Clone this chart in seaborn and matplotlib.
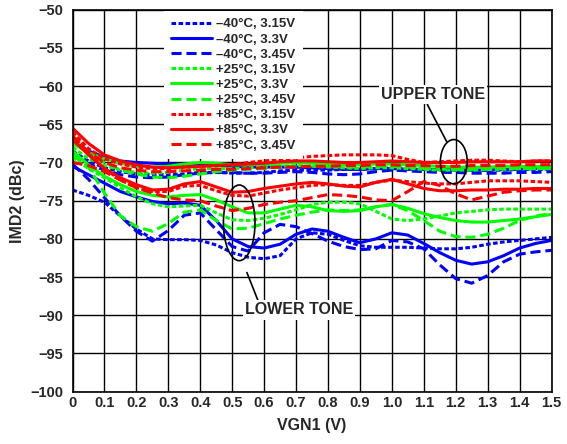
import pandas as pd
import seaborn as sns
import matplotlib.pyplot as plt
from matplotlib.patches import Ellipse

vgn1 = [0.0, 0.05, 0.1, 0.15, 0.2, 0.25, 0.3, 0.35, 0.4, 0.45, 0.5, 0.55, 0.6, 0.65, 0.7, 0.75,
        0.8, 0.85, 0.9, 0.95, 1.0, 1.05, 1.1, 1.15, 1.2, 1.25, 1.3, 1.35, 1.4, 1.45, 1.5]

conditions = ["–40°C, 3.15V", "–40°C, 3.3V", "–40°C, 3.45V",
              "+25°C, 3.15V", "+25°C, 3.3V", "+25°C, 3.45V",
              "+85°C, 3.15V", "+85°C, 3.3V", "+85°C, 3.45V"]
colors = ["#0000ff"] * 3 + ["#00ff00"] * 3 + ["#ff0000"] * 3
dash_styles = [(1.5, 0.8), "", (3.3, 1.6)] * 3

x_ticklabels = ["0", "0.1", "0.2", "0.3", "0.4", "0.5", "0.6", "0.7", "0.8", "0.9",
                "1.0", "1.1", "1.2", "1.3", "1.4", "1.5"]
x_ticks = [0.0, 0.1, 0.2, 0.3, 0.4, 0.5, 0.6, 0.7, 0.8, 0.9, 1.0, 1.1, 1.2, 1.3, 1.4, 1.5]
y_ticks = [-100, -95, -90, -85, -80, -75, -70, -65, -60, -55, -50]

# lower tone IMD2 (dBc)
m40_315_lo = [-73.6, -74.3, -75.2, -77.0, -78.7, -80.0, -80.1, -80.1, -80.2, -80.8, -81.8, -82.4, -82.6, -82.2, -80.0, -79.2,
              -79.4, -80.2, -80.9, -81.1, -81.1, -81.1, -81.2, -81.3, -81.3, -81.1, -80.7, -80.4, -80.2, -80.0, -79.8]
m40_33_lo = [-70.5, -71.6, -72.7, -73.8, -74.5, -75.1, -75.4, -75.3, -75.6, -77.6, -80.0, -81.0, -81.2, -80.7, -79.4, -78.7,
             -79.0, -79.8, -80.5, -80.0, -79.2, -79.5, -80.6, -81.8, -82.8, -83.3, -83.0, -82.2, -81.2, -80.6, -80.2]
m40_345_lo = [-70.2, -72.2, -74.6, -77.0, -79.0, -80.3, -78.9, -76.9, -76.6, -78.8, -81.0, -81.6, -79.2, -78.1, -78.4, -79.3,
              -80.3, -81.0, -81.4, -81.3, -80.2, -80.4, -81.3, -83.4, -85.2, -85.8, -84.8, -83.0, -82.0, -81.7, -81.5]
p25_315_lo = [-69.3, -70.8, -72.0, -73.3, -74.5, -75.4, -75.8, -75.7, -75.6, -76.6, -77.5, -77.6, -77.3, -76.8, -76.2, -75.5,
              -75.2, -75.2, -75.4, -76.4, -77.4, -77.6, -77.4, -77.0, -76.6, -76.4, -76.2, -76.1, -76.1, -76.1, -76.1]
p25_33_lo = [-68.5, -70.3, -71.8, -72.9, -73.8, -74.3, -74.5, -74.3, -74.2, -74.9, -75.8, -76.6, -76.6, -76.1, -75.6, -75.8,
             -76.3, -76.4, -76.3, -75.8, -75.5, -76.0, -76.7, -77.2, -77.6, -77.8, -77.8, -77.6, -77.4, -77.1, -76.8]
p25_345_lo = [-69.0, -70.6, -74.0, -77.0, -78.4, -79.0, -78.0, -76.5, -76.2, -77.6, -78.7, -78.6, -78.0, -77.4, -76.9, -76.5,
              -76.2, -76.3, -76.2, -75.8, -75.5, -76.3, -77.6, -79.0, -79.7, -79.8, -79.4, -78.6, -77.6, -77.0, -76.7]
p85_315_lo = [-66.0, -68.8, -70.8, -72.3, -73.3, -73.8, -73.8, -73.1, -73.0, -73.7, -74.3, -74.4, -74.0, -73.6, -73.3, -73.0,
              -72.9, -73.0, -73.0, -72.6, -72.3, -72.5, -72.7, -72.8, -72.8, -72.6, -72.4, -72.4, -72.4, -72.5, -72.6]
p85_33_lo = [-67.0, -69.0, -70.8, -72.0, -72.9, -73.6, -73.5, -72.8, -72.5, -73.2, -73.9, -73.8, -73.4, -73.1, -72.8, -72.6,
             -72.8, -73.1, -73.2, -72.6, -72.2, -72.8, -73.4, -73.7, -73.7, -73.6, -73.6, -73.5, -73.5, -73.4, -73.4]
p85_345_lo = [-70.0, -70.4, -71.2, -72.3, -73.3, -74.0, -74.6, -74.9, -75.0, -75.7, -76.3, -76.0, -75.5, -75.2, -75.0, -74.6,
              -74.2, -74.3, -74.5, -74.9, -75.0, -73.8, -72.5, -73.0, -74.1, -74.9, -74.4, -73.9, -73.7, -73.6, -73.6]

# upper tone IMD2 (dBc)
m40_315_up = [-68.5, -69.8, -70.7, -71.2, -71.5, -71.6, -71.6, -71.5, -71.3, -71.3, -71.4, -71.4, -71.3, -71.1, -71.0, -71.0,
              -71.0, -70.9, -70.9, -70.8, -70.7, -70.8, -70.9, -71.0, -71.0, -71.0, -71.0, -71.0, -70.9, -70.9, -70.9]
m40_33_up = [-67.2, -68.5, -69.3, -69.8, -70.0, -70.1, -70.2, -70.2, -70.3, -70.4, -70.5, -70.6, -70.6, -70.6, -70.6, -70.7,
             -70.8, -70.9, -70.9, -70.8, -70.8, -70.9, -70.9, -70.9, -71.0, -71.0, -71.0, -70.9, -70.9, -70.8, -70.8]
m40_345_up = [-69.0, -70.2, -71.0, -71.6, -71.9, -72.0, -71.9, -71.6, -71.4, -71.3, -71.3, -71.4, -71.4, -71.3, -71.2, -71.3,
              -71.5, -71.6, -71.5, -71.2, -71.0, -71.1, -71.2, -71.3, -71.3, -71.4, -71.4, -71.4, -71.3, -71.3, -71.2]
p25_315_up = [-68.0, -69.5, -70.4, -71.0, -71.3, -71.4, -71.3, -71.0, -70.8, -70.8, -70.8, -70.7, -70.6, -70.5, -70.4, -70.5,
              -70.6, -70.7, -70.8, -70.7, -70.7, -70.8, -70.9, -71.0, -71.0, -71.0, -70.9, -70.9, -70.8, -70.8, -70.8]
p25_33_up = [-67.5, -68.7, -69.5, -70.1, -70.5, -70.6, -70.5, -70.2, -70.0, -70.1, -70.3, -70.3, -70.2, -70.1, -70.0, -70.1,
             -70.2, -70.3, -70.3, -70.2, -70.2, -70.3, -70.4, -70.5, -70.6, -70.6, -70.6, -70.5, -70.5, -70.5, -70.5]
p25_345_up = [-67.0, -68.8, -70.0, -71.0, -71.5, -71.9, -72.0, -71.8, -71.5, -71.2, -71.0, -70.9, -70.8, -70.6, -70.5, -70.5,
              -70.5, -70.6, -70.6, -70.5, -70.5, -70.6, -70.8, -70.9, -70.9, -70.9, -70.9, -70.8, -70.8, -70.8, -70.8]
p85_315_up = [-66.0, -68.2, -69.5, -70.2, -70.6, -70.8, -70.8, -70.6, -70.5, -70.4, -70.3, -70.0, -69.8, -69.6, -69.4, -69.2,
              -69.1, -69.0, -69.0, -69.0, -69.1, -69.6, -70.0, -69.9, -69.8, -69.7, -69.7, -69.8, -69.9, -69.8, -69.8]
p85_33_up = [-65.5, -67.5, -69.0, -69.8, -70.3, -70.6, -70.7, -70.6, -70.5, -70.4, -70.3, -70.2, -70.1, -69.9, -69.8, -69.8,
             -69.9, -70.0, -70.0, -69.9, -69.8, -69.9, -70.0, -70.0, -70.0, -69.9, -69.9, -69.9, -69.9, -69.8, -69.8]
p85_345_up = [-66.5, -68.7, -70.0, -70.7, -71.0, -71.2, -71.2, -71.1, -71.0, -70.9, -70.9, -70.8, -70.7, -70.6, -70.6, -70.5,
              -70.5, -70.4, -70.4, -70.3, -70.3, -70.4, -70.4, -70.5, -70.5, -70.4, -70.4, -70.4, -70.3, -70.3, -70.3]

lower = [m40_315_lo, m40_33_lo, m40_345_lo, p25_315_lo, p25_33_lo, p25_345_lo, p85_315_lo, p85_33_lo, p85_345_lo]
upper = [m40_315_up, m40_33_up, m40_345_up, p25_315_up, p25_33_up, p25_345_up, p85_315_up, p85_33_up, p85_345_up]

rows = []
for cond, lo, up in zip(conditions, lower, upper):
    for tone, vals in (("lower", lo), ("upper", up)):
        for xv, yv in zip(vgn1, vals):
            rows.append({"vgn1": xv, "imd2": yv, "cond": cond, "tone": tone})
df = pd.DataFrame(rows)

sns.set_style("white")
plt.rcParams['font.family'] = ['Liberation Sans', 'DejaVu Sans']
plt.rcParams['font.weight'] = 'bold'

fig = plt.figure(figsize=(5.67, 4.44), dpi=100)
ax = fig.add_axes([0.1279, 0.1178, 0.8448, 0.8604])

sns.lineplot(data=df, x="vgn1", y="imd2", hue="cond", style="cond", units="tone",
             estimator=None, sort=False, hue_order=conditions, style_order=conditions,
             palette=dict(zip(conditions, colors)), dashes=dict(zip(conditions, dash_styles)),
             linewidth=2.2, ax=ax)

ax.set_xlim(0, 1.5)
ax.set_ylim(-100, -50)
ax.set_xticks(x_ticks)
ax.set_xticklabels(x_ticklabels)
ax.set_yticks(y_ticks)
ax.tick_params(axis='x', length=0, pad=3, labelsize=10.5)
ax.tick_params(axis='y', length=0, pad=6.5, labelsize=10.5)
for lab in ax.get_xticklabels() + ax.get_yticklabels():
    lab.set_fontweight('bold')
ax.grid(True, color='black', linewidth=1.0)
ax.set_axisbelow(True)
for sp in ax.spines.values():
    sp.set_color('black')
    sp.set_linewidth(1.2)

ax.set_xlabel("VGN1 (V)", fontsize=11.5, fontweight='bold')
ax.set_ylabel("IMD2 (dBc)", fontsize=11.5, fontweight='bold')
ax.xaxis.set_label_coords(0.5, -0.069)
ax.yaxis.set_label_coords(-0.099, 0.5)

old = ax.get_legend()
handles = old.legend_handles
labels = [t.get_text() for t in old.get_texts()]
old.remove()
for h in handles:
    h.set_linewidth(2.2)
leg = ax.legend(handles, labels, loc='upper left', bbox_to_anchor=(0.188, 1.0), borderaxespad=0.1,
                frameon=True, facecolor='white', edgecolor='none', framealpha=1, fancybox=False,
                handlelength=3.1, handletextpad=0.33, labelspacing=0.22, borderpad=0.55,
                prop={'weight': 'bold', 'size': 9.5})
leg.set_zorder(5)

# tone call-outs
ax.add_patch(Ellipse((1.194, -69.9), 0.084, 5.8, fill=False, ec='black', lw=1.2, zorder=4))
ax.plot([1.111, 1.172], [-62.4, -67.3], color='black', lw=1.2, zorder=4)
ax.text(1.128, -61.1, "UPPER TONE", ha='center', va='center', fontsize=11.5, fontweight='bold',
        bbox=dict(fc='white', ec='none', pad=1.5), zorder=4)

ax.add_patch(Ellipse((0.522, -77.9), 0.099, 9.9, fill=False, ec='black', lw=1.2, zorder=4))
ax.plot([0.546, 0.582], [-84.4, -88.2], color='black', lw=1.2, zorder=4)
ax.text(0.71, -89.3, "LOWER TONE", ha='center', va='center', fontsize=11.5, fontweight='bold',
        bbox=dict(fc='white', ec='none', pad=1.5), zorder=4)

fig.savefig("out.png", dpi=100)
